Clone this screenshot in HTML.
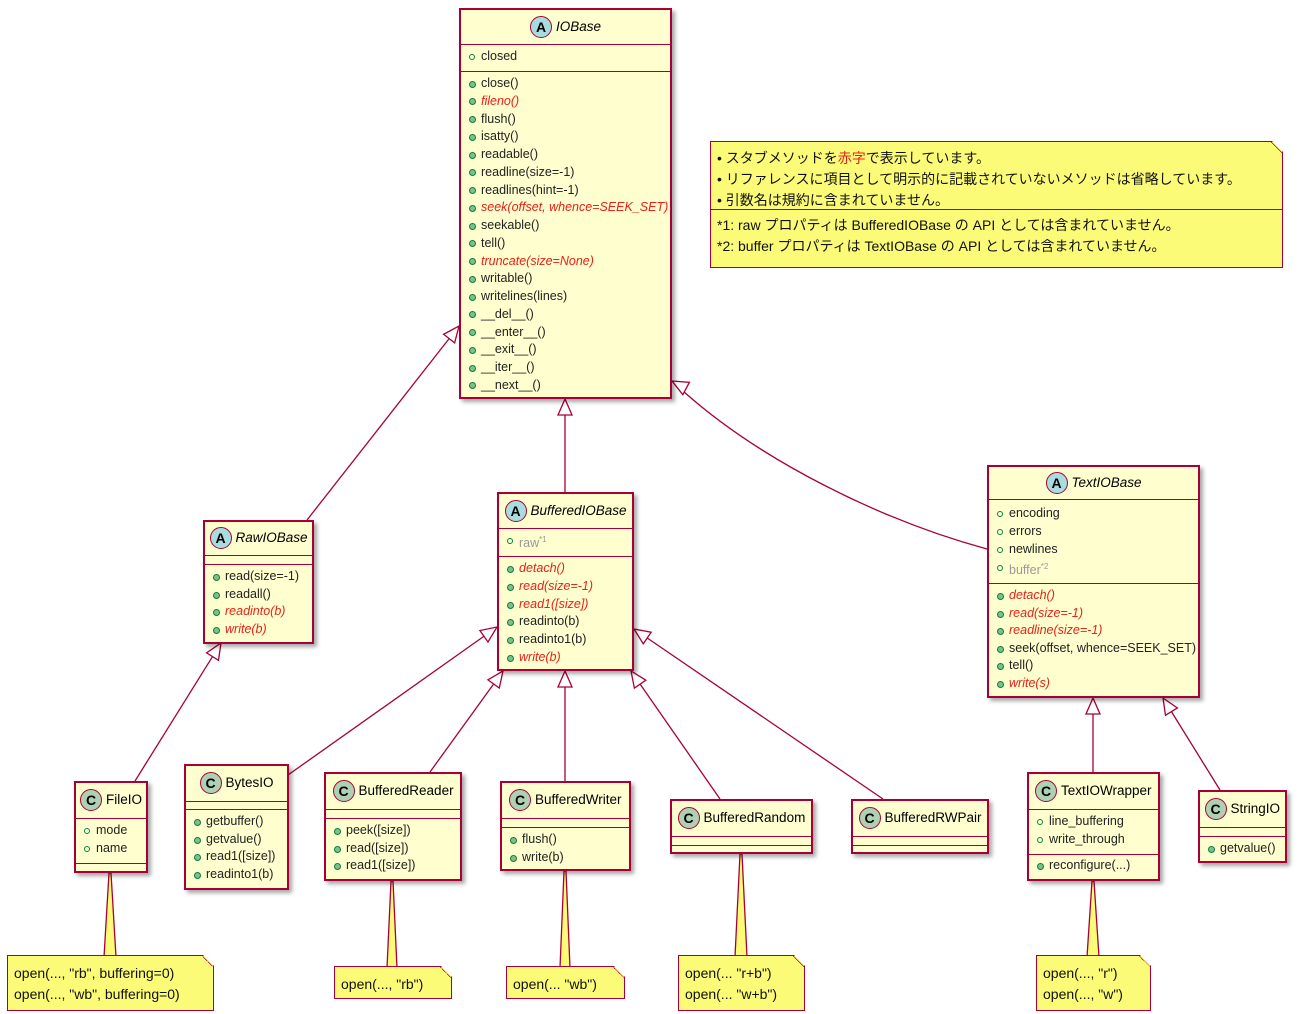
<!DOCTYPE html>
<html><head><meta charset="utf-8">
<style>
body{margin:0;width:1300px;height:1014px;background:#fff;position:relative;overflow:hidden;font-family:"Liberation Sans","Noto Sans CJK JP",sans-serif;}
.box{position:absolute;background:#FEFECE;border:2px solid #A80036;box-sizing:border-box;box-shadow:3px 3px 4px rgba(0,0,0,.35);}
.div{position:absolute;left:0;right:0;height:0;border-top:1.5px solid #A80036;}
.t{position:absolute;font-size:12.5px;color:#222;white-space:nowrap;line-height:14px;}
.red{color:#e8201a;font-style:italic;}
.gray{color:#999;}
.vf{position:absolute;width:6px;height:6px;border:1.3px solid #038048;border-radius:50%;box-sizing:border-box;}
.vm{position:absolute;width:7px;height:7px;background:#84BE84;border:1px solid #038048;border-radius:50%;box-sizing:border-box;}
.circ{position:absolute;width:22px;height:22px;border-radius:50%;border:1.3px solid #A80036;box-sizing:border-box;text-align:center;font-weight:bold;font-size:14px;line-height:20px;color:#000;}
.name{position:absolute;font-size:13.5px;white-space:nowrap;line-height:16px;color:#000;}
.note{position:absolute;background:#FBFB77;border:1.3px solid #A80036;box-sizing:border-box;box-shadow:3px 3px 4px rgba(0,0,0,.35);font-size:14px;}
svg{position:absolute;left:0;top:0;}
</style></head><body>
<svg id="lines" width="1300" height="1014"></svg>
<div id="root"></div>
<script>
const root=document.getElementById('root');
function el(cls,css,html,parent){const d=document.createElement('div');d.className=cls;d.style.cssText=css;if(html!=null)d.innerHTML=html;(parent||root).appendChild(d);return d;}
// items: [y(abs center), text, kind f/m, cls]
function box(x,y,w,h,type,name,italic,divs,items){
  const b=el('box',`left:${x}px;top:${y}px;width:${w}px;height:${h}px;`);
  divs.forEach(d=>el('div',`top:${d-y-1}px;`,null,b));
  const hy=(divs[0]-y)/2;
  // measure name width approx
  const nm=el('name',`top:0;left:0;${italic?'font-style:italic;':''}`,name,b);
  const nw=nm.offsetWidth; const tot=22+4+nw; const sx=(w-4-tot)/2;
  nm.style.left=(sx+26)+'px'; nm.style.top=(hy-9)+'px';
  el('circ',`left:${sx}px;top:${hy-12}px;background:${type=='A'?'#A9DCDF':'#ADD1B2'};`,type,b);
  items.forEach(it=>{
    const [iy,txt,k,c]=it;
    el(k=='f'?'vf':'vm',`left:8px;top:${iy-y-2-(k=='f'?3:3.5)}px;`,null,b);
    el('t '+(c||''),`left:20px;top:${iy-y-2-8}px;`,txt,b);
  });
}
const f=(ys,arr,k,cls)=>arr.map((t,i)=>[ys[i],t,k,cls&&cls[i]]);
// IOBase
{const names=['close()','fileno()','flush()','isatty()','readable()','readline(size=-1)','readlines(hint=-1)','seek(offset, whence=SEEK_SET)','seekable()','tell()','truncate(size=None)','writable()','writelines(lines)','__del__()','__enter__()','__exit__()','__iter__()','__next__()'];
 const red=[1,7,10];
 const it=[[57,'closed','f']].concat(names.map((n,i)=>[84+i*17.75,n,'m',red.includes(i)?'red':'']));
 box(459,8,213,391,'A','IOBase',true,[43,70],it);}
box(203,520,111,124,'A','RawIOBase',true,[554,563],[[577,'read(size=-1)','m'],[595,'readall()','m'],[612,'readinto(b)','m','red'],[630,'write(b)','m','red']]);
box(497,492,137,179,'A','BufferedIOBase',true,[527,555],[[541,'raw<sup style="font-size:8px">*1</sup>','f','gray'],[569,'detach()','m','red'],[587,'read(size=-1)','m','red'],[605,'read1([size])','m','red'],[622,'readinto(b)','m'],[640,'readinto1(b)','m'],[658,'write(b)','m','red']]);
box(987,465,213,233,'A','TextIOBase',true,[498,582],[[514,'encoding','f'],[532,'errors','f'],[550,'newlines','f'],[568,'buffer<sup style="font-size:8px">*2</sup>','f','gray'],[596,'detach()','m','red'],[614,'read(size=-1)','m','red'],[631,'readline(size=-1)','m','red'],[649,'seek(offset, whence=SEEK_SET)','m'],[666,'tell()','m'],[684,'write(s)','m','red']]);
box(74,781,74,92,'C','FileIO',false,[817,862],[[831,'mode','f'],[849,'name','f']]);
box(184,764,105,126,'C','BytesIO',false,[800,808],[[822,'getbuffer()','m'],[840,'getvalue()','m'],[857,'read1([size])','m'],[875,'readinto1(b)','m']]);
box(324,772,138,109,'C','BufferedReader',false,[808,817],[[831,'peek([size])','m'],[849,'read([size])','m'],[866,'read1([size])','m']]);
box(500,781,131,90,'C','BufferedWriter',false,[817,826],[[840,'flush()','m'],[858,'write(b)','m']]);
box(670,799,143,55,'C','BufferedRandom',false,[835,844],[]);
box(851,799,138,55,'C','BufferedRWPair',false,[835,844],[]);
box(1027,772,133,109,'C','TextIOWrapper',false,[808,853],[[822,'line_buffering','f'],[840,'write_through','f'],[866,'reconfigure(...)','m']]);
box(1198,790,89,73,'C','StringIO',false,[826,835],[[849,'getvalue()','m']]);

// lines
const svg=document.getElementById('lines');let s='';
function inh(x1,y1,x2,y2,path){
  const dx=x2-x1,dy=y2-y1,L=Math.hypot(dx,dy),ux=dx/L,uy=dy/L;
  const bx=x2-ux*16,by=y2-uy*16,px=-uy*7,py=ux*7;
  s+=`<path d="${path||`M${x1},${y1} L${bx},${by}`}" stroke="#A80036" stroke-width="1.3" fill="none"/>`;
  s+=`<polygon points="${x2},${y2} ${bx+px},${by+py} ${bx-px},${by-py}" fill="#fff" stroke="#A80036" stroke-width="1.3"/>`;
}
inh(307,520,459,326);
inh(565,492,565,399);
inh(987,549,672,381,'M987,549 C880,520 760,460 683,391');
inh(135,781,221,643);
inh(288,775,497,627);
inh(430,772,503,671);
inh(565,781,565,671);
inh(720,799,631,671);
inh(883,799,634,629);
inh(1093,772,1093,698);
inh(1220,790,1163,698);
// note connectors
function nc(x,y1,y2,w){s+=`<polygon points="${x-1},${y1} ${x+1},${y1} ${x+w},${y2+1} ${x-w},${y2+1}" fill="#FBFB77" stroke="#A80036" stroke-width="1.3"/>`;}
nc(110,873,956,6);nc(392,881,967,5);nc(565,871,967,5);nc(741,854,956,6);nc(1093,881,956,6);
svg.innerHTML=s;
function note(x,y,w,h,lines,ty){
  const n=el('note',`left:${x}px;top:${y}px;width:${w}px;height:${h}px;clip-path:polygon(0 0,${w-11}px 0,100% 11px,100% 100%,0 100%);`);
  el('','position:absolute;right:0;top:0;width:11px;height:11px;background:linear-gradient(to top right,#FBFB77 50%,#A80036 50%,#A80036 54%,transparent 54%);',null,n);
  lines.forEach((l,i)=>el('t',`left:6px;top:${ty[i]-y-9}px;font-size:14px;line-height:18px;color:#111;`,l,n));
  return n;
}
note(7,955,207,56,['open(..., "rb", buffering=0)','open(..., "wb", buffering=0)'],[972,993]);
note(334,966,118,33,['open(..., "rb")'],[983]);
note(506,966,119,33,['open(... "wb")'],[983]);
note(678,955,127,56,['open(... "r+b")','open(... "w+b")'],[972,993]);
note(1036,955,115,56,['open(..., "r")','open(..., "w")'],[972,993]);
const big=note(710,141,573,127,['• スタブメソッドを<span style="color:#e8201a">赤字</span>で表示しています。','• リファレンスに項目として明示的に記載されていないメソッドは省略しています。','• 引数名は規約に含まれていません。','*1: raw プロパティは BufferedIOBase の API としては含まれていません。','*2: buffer プロパティは TextIOBase の API としては含まれていません。'],[157,178,199,224,245]);
el('div','top:67px;',null,big);
</script>
</body></html>
